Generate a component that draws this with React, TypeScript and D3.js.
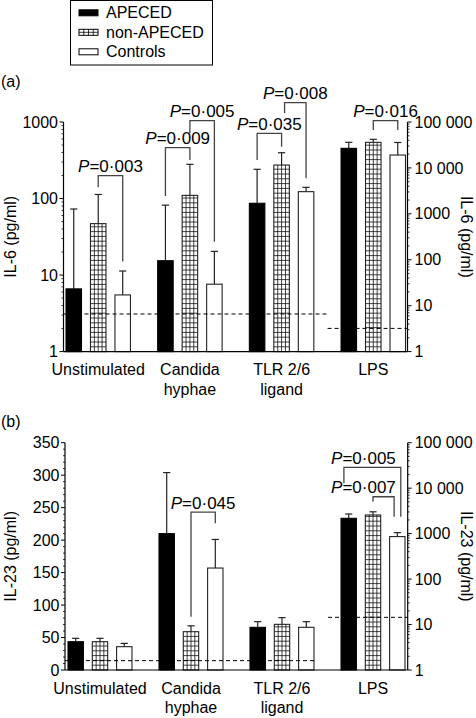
import React from "react";
import * as d3 from "d3";

const W = 476;
const H = 718;
const FONT = "'Liberation Sans', Arial, Helvetica, sans-serif";

// ---------- data ----------
const groups = ["Unstimulated", "Candida|hyphae", "TLR 2/6|ligand", "LPS"];
const seriesNames = ["APECED", "non-APECED", "Controls"];

// Panel (a) IL-6 (pg/ml); groups 0-2 on left log axis, LPS on right log axis
const il6Mean = [
  [6.6, 47, 5.5],
  [15.4, 110, 7.6],
  [86.7, 274, 123],
  [26700, 36100, 19100],
];
const il6Err = [
  [73, 113, 11.3],
  [82, 280, 20.4],
  [241, 397, 140],
  [36100, 42000, 35800],
];
const il6Axis = ["left", "left", "left", "right"];
const il6Limit = [3.1, 3.2];
const il6LeftTicks = [1, 10, 100, 1000];
const il6LeftLabels = ["1", "10", "100", "1000"];
const logRightTicks = [1, 10, 100, 1000, 10000, 100000];
const logRightLabels = ["1", "10", "100", "1000", "10 000", "100 000"];

// Panel (b) IL-23 (pg/ml); groups 0-2 on left linear axis, LPS on right log axis
const il23Mean = [
  [43.6, 43.6, 35.9],
  [210, 59, 157],
  [65.7, 70.3, 65.7],
  [2170, 2570, 860],
];
const il23Err = [
  [48.8, 48.8, 41],
  [304, 68, 201],
  [74.4, 80.6, 74.4],
  [2700, 3020, 1050],
];
const il23Axis = ["left", "left", "left", "right"];
const il23Limit = [14.4, 14.4];
const il23LeftTicks = [0, 50, 100, 150, 200, 250, 300, 350];
const il23LeftLabels = ["0", "50", "100", "150", "200", "250", "300", "350"];

type Bracket = {
  g: number; a: number; b: number;
  y: number; yA: number; yB: number;
  dxA?: number; dxB?: number;
  label: string; axis: string; anchor?: string;
};

const il6Brackets: Bracket[] = [
  { g: 0, a: 1, b: 2, y: 199, yA: 140, yB: 15, label: "0·003", axis: "left" },
  { g: 1, a: 0, b: 1, y: 462, yA: 108, yB: 319, label: "0·009", axis: "left" },
  { g: 1, a: 1, b: 2, y: 1040, yA: 712, yB: 27.3, label: "0·005", axis: "left" },
  { g: 2, a: 0, b: 1, y: 712, yA: 319, yB: 476, label: "0·035", axis: "left" },
  { g: 2, a: 1, b: 2, y: 1787, yA: 1300, yB: 184, dxA: 3, label: "0·008", axis: "left" },
  { g: 3, a: 1, b: 2, y: 106700, yA: 67000, yB: 67000, label: "0·016", axis: "right" },
];

const il23Brackets: Bracket[] = [
  { g: 1, a: 1, b: 2, y: 243, yA: 82, yB: 226, label: "0·045", axis: "left" },
  { g: 3, a: 0, b: 2, y: 28700, yA: 12770, yB: 2350, dxA: -4.8, dxB: 3.5, label: "0·005", axis: "right", anchor: "end" },
  { g: 3, a: 1, b: 2, y: 6470, yA: 5030, yB: 2350, dxB: -3.2, label: "0·007", axis: "right", anchor: "end" },
];

// ---------- drawing ----------
type PanelProps = {
  tag: string;
  tagY: number;
  mean: number[][];
  err: number[][];
  axisOf: string[];
  limit: number[];
  brackets: Bracket[];
  left: any;
  right: any;
  leftTicks: number[];
  leftLabels: string[];
  leftMinor: number[];
  rightMinor: number[];
  leftAxisX: number;
  rightAxisX: number;
  xRange: [number, number];
  yLabel: string;
  baseline: number;
  top: number;
  limitGap: [number, number];
};

function logMinors(maxV: number) {
  const out: number[] = [];
  for (let d = 1; d < maxV; d *= 10) for (let k = 2; k <= 9; k++) out.push(k * d);
  return out;
}

function Hatch({ x, w, yTop, yBot }: { x: number; w: number; yTop: number; yBot: number }) {
  const vs = [0.25, 0.5, 0.75].map((f) => x + f * w);
  const hs = d3.range(yBot - 4.8, yTop, -4.8);
  return (
    <g stroke="#111" strokeWidth={0.8}>
      {vs.map((vx, i) => <line key={"v" + i} x1={vx} x2={vx} y1={yTop} y2={yBot} />)}
      {hs.map((hy, i) => <line key={"h" + i} x1={x} x2={x + w} y1={hy} y2={hy} />)}
    </g>
  );
}

function Panel(p: PanelProps) {
  const xg = d3.scaleBand<number>().domain(d3.range(groups.length)).range(p.xRange).paddingInner(0.297).paddingOuter(0);
  const xs = d3.scaleBand<number>().domain(d3.range(seriesNames.length)).range([0, xg.bandwidth()]).paddingInner(0.367).paddingOuter(0);
  const bw = xs.bandwidth();
  const sc = (axis: string) => (axis === "left" ? p.left : p.right);
  const cx = (g: number, s: number) => (xg(g) as number) + (xs(s) as number) + bw / 2;

  const tlrEnd = (xg(2) as number) + xg.bandwidth();
  const lpsStart = xg(3) as number;
  const split1 = tlrEnd + p.limitGap[0];
  const split2 = lpsStart - p.limitGap[1];

  const rightMajor = logRightTicks;
  const midY = (p.baseline + p.top) / 2;

  return (
    <g>
      <text x={1} y={p.tagY} fontSize={16}>{p.tag}</text>
      {/* bars */}
      {p.mean.map((row, g) =>
        row.map((v, s) => {
          const scale = sc(p.axisOf[g]);
          const x = (xg(g) as number) + (xs(s) as number);
          const yTop = scale(v);
          const yErr = scale(p.err[g][s]);
          const c = x + bw / 2;
          return (
            <g key={g + "-" + s}>
              <line x1={c} x2={c} y1={yTop} y2={yErr} stroke="#222" strokeWidth={1.2} />
              <line x1={c - 3.6} x2={c + 3.6} y1={yErr} y2={yErr} stroke="#222" strokeWidth={1.2} />
              <rect x={x} y={yTop} width={bw} height={p.baseline - yTop}
                fill={s === 0 ? "#000" : "#fff"} stroke={s === 0 ? "#000" : "#222"} strokeWidth={1.1} />
              {s === 1 && <Hatch x={x} w={bw} yTop={yTop} yBot={p.baseline} />}
            </g>
          );
        })
      )}
      {/* detection limits */}
      <line x1={p.leftAxisX} x2={split1} y1={p.left(p.limit[0])} y2={p.left(p.limit[0])}
        stroke="#000" strokeWidth={1} strokeDasharray="4 3" />
      <line x1={split2} x2={p.rightAxisX} y1={p.right(p.limit[1])} y2={p.right(p.limit[1])}
        stroke="#000" strokeWidth={1} strokeDasharray="4 3" />
      {/* brackets */}
      {p.brackets.map((b, i) => {
        const scale = sc(b.axis);
        const xa = cx(b.g, b.a) + (b.dxA || 0);
        const xb = cx(b.g, b.b) + (b.dxB || 0);
        const yy = scale(b.y);
        const tx = b.anchor === "end" ? cx(b.g, b.b) - 1.5 : (xa + xb) / 2;
        return (
          <g key={"br" + i}>
            <path d={`M${xa},${scale(b.yA)}V${yy}H${xb}V${scale(b.yB)}`} fill="none" stroke="#444" strokeWidth={1.3} />
            <text x={tx} y={yy - 3.5} fontSize={17} textAnchor={b.anchor === "end" ? "end" : "middle"}>
              <tspan fontStyle="italic">P</tspan>=0·{b.label.slice(2)}
            </text>
          </g>
        );
      })}
      {/* x axis */}
      <line x1={p.leftAxisX} x2={p.rightAxisX} y1={p.baseline} y2={p.baseline} stroke="#000" strokeWidth={1.2} />
      {groups.map((gname, g) => {
        const lines = gname.split("|");
        const c = (xg(g) as number) + xg.bandwidth() / 2;
        return (
          <text key={"gl" + g} x={c} y={p.baseline + 23.5} fontSize={16} textAnchor="middle">
            {lines.map((l, i) => (
              <tspan key={i} x={c} dy={i === 0 ? 0 : 19.8}>{l}</tspan>
            ))}
          </text>
        );
      })}
      {/* left axis */}
      <line x1={p.leftAxisX} x2={p.leftAxisX} y1={p.top} y2={p.baseline} stroke="#000" strokeWidth={1.2} />
      {p.leftMinor.map((v, i) => (
        <line key={"lm" + i} x1={p.leftAxisX - 2} x2={p.leftAxisX} y1={p.left(v)} y2={p.left(v)} stroke="#000" strokeWidth={0.8} />
      ))}
      {p.leftTicks.map((v, i) => (
        <g key={"lt" + i}>
          <line x1={p.leftAxisX - 4} x2={p.leftAxisX} y1={p.left(v)} y2={p.left(v)} stroke="#000" strokeWidth={1} />
          <text x={p.leftAxisX - 5.5} y={p.left(v)} dy="0.35em" fontSize={16} textAnchor="end">{p.leftLabels[i]}</text>
        </g>
      ))}
      <text transform={`translate(10,${midY}) rotate(-90)`} dy="0.35em" fontSize={16} textAnchor="middle">{p.yLabel}</text>
      {/* right axis */}
      <line x1={p.rightAxisX} x2={p.rightAxisX} y1={p.top} y2={p.baseline} stroke="#000" strokeWidth={1.2} />
      {p.rightMinor.map((v, i) => (
        <line key={"rm" + i} x1={p.rightAxisX} x2={p.rightAxisX + 2} y1={p.right(v)} y2={p.right(v)} stroke="#000" strokeWidth={0.8} />
      ))}
      {rightMajor.map((v, i) => (
        <g key={"rt" + i}>
          <line x1={p.rightAxisX} x2={p.rightAxisX + 4} y1={p.right(v)} y2={p.right(v)} stroke="#000" strokeWidth={1} />
          <text x={p.rightAxisX + 7} y={p.right(v)} dy="0.35em" fontSize={16}>{logRightLabels[i]}</text>
        </g>
      ))}
      <text transform={`translate(467,${midY}) rotate(90)`} dy="0.35em" fontSize={16} textAnchor="middle">{p.yLabel}</text>
    </g>
  );
}

function Legend() {
  const rows = [18.3, 37.8, 57.3];
  return (
    <g>
      <rect x={70.5} y={0.5} width={142} height={64.5} fill="#fff" stroke="#000" strokeWidth={1} />
      {seriesNames.map((name, i) => {
        const y = rows[i];
        const sx = 79, sw = 19, sh = 6, sy = y - 8.5;
        return (
          <g key={name}>
            <rect x={sx} y={sy} width={sw} height={sh} fill={i === 0 ? "#000" : "#fff"} stroke="#000" strokeWidth={1} />
            {i === 1 && (
              <g stroke="#000" strokeWidth={0.8}>
                {[0.25, 0.5, 0.75].map((f) => <line key={f} x1={sx + f * sw} x2={sx + f * sw} y1={sy} y2={sy + sh} />)}
                <line x1={sx} x2={sx + sw} y1={sy + sh / 2} y2={sy + sh / 2} />
              </g>
            )}
            <text x={106} y={y} fontSize={16}>{name}</text>
          </g>
        );
      })}
    </g>
  );
}

export default function App() {
  const aBase = 351.6, aTop = 122;
  const bBase = 670, bTop = 442.7;
  const aLeft = d3.scaleLog().domain([1, 1000]).range([aBase, aTop]);
  const aRight = d3.scaleLog().domain([1, 100000]).range([aBase, aTop]);
  const bLeft = d3.scaleLinear().domain([0, 350]).range([bBase, bTop]);
  const bRight = d3.scaleLog().domain([1, 100000]).range([bBase, bTop]);
  const linMinor = d3.range(0, 351, 10).filter((v) => v % 50 !== 0);

  return (
    <svg width={W} height={H} viewBox={`0 0 ${W} ${H}`}
      style={{ position: "absolute", left: 0, top: 0, background: "#fff" }}
      fontFamily={FONT} fill="#000">
      <rect width={W} height={H} fill="#fff" />
      <Legend />
      <Panel tag="(a)" tagY={87.3} mean={il6Mean} err={il6Err} axisOf={il6Axis} limit={il6Limit}
        brackets={il6Brackets} left={aLeft} right={aRight}
        leftTicks={il6LeftTicks} leftLabels={il6LeftLabels}
        leftMinor={logMinors(1000)} rightMinor={logMinors(100000)}
        leftAxisX={63.5} rightAxisX={407.5} xRange={[66, 405.5]}
        yLabel="IL-6 (pg/ml)" baseline={aBase} top={aTop} limitGap={[13.5, 13.5]} />
      <Panel tag="(b)" tagY={426.5} mean={il23Mean} err={il23Err} axisOf={il23Axis} limit={il23Limit}
        brackets={il23Brackets} left={bLeft} right={bRight}
        leftTicks={il23LeftTicks} leftLabels={il23LeftLabels}
        leftMinor={linMinor} rightMinor={logMinors(100000)}
        leftAxisX={65} rightAxisX={407.7} xRange={[68, 405]}
        yLabel="IL-23 (pg/ml)" baseline={bBase} top={bTop} limitGap={[3, 13]} />
    </svg>
  );
}
